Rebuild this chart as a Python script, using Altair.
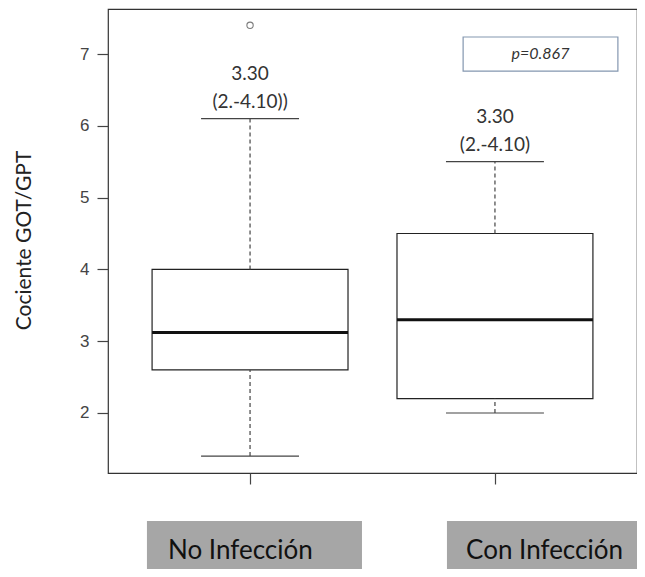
import altair as alt
import pandas as pd

# ---------------- data ----------------
categories = ["No Infección", "Con Infección"]
x_pos = [1, 2]
q1 = [2.60, 2.20]
median = [3.12, 3.30]
q3 = [4.00, 4.50]
whisker_low = [1.40, 2.00]
whisker_high = [6.10, 5.50]
outlier_x = [1]
outlier_val = [7.40]
ann_line1 = ["3.30", "3.30"]
ann_line2 = ["(2.-4.10))", "(2.-4.10)"]
p_label = "p=0.867"

# ---------------- style / layout ----------------
BOX_HALF = 0.4
CAP_HALF = 0.2
X_DOMAIN = [0.42, 2.58]
Y_DOMAIN = [1.164, 7.627]
W, H = 529, 464
# decoration positions (data units)
P_BOX = dict(x0=1.870, x1=2.502, y0=6.763, y1=7.237, tx=2.186, ty=7.0)
LBL_X0 = [0.579, 1.804]
LBL_X1 = [1.457, 2.70]
LBL_TX = [0.665, 1.882]
LBL_Y0, LBL_Y1, LBL_TY = 0.496, -0.40, -0.033

df = pd.DataFrame({
    "cat": categories, "x": x_pos, "q1": q1, "median": median, "q3": q3,
    "wlo": whisker_low, "whi": whisker_high, "a1": ann_line1, "a2": ann_line2,
})
df["xl"] = df["x"] - BOX_HALF
df["xr"] = df["x"] + BOX_HALF
df["cl"] = df["x"] - CAP_HALF
df["cr"] = df["x"] + CAP_HALF

out_df = pd.DataFrame({"x": outlier_x, "v": outlier_val})
p_df = pd.DataFrame([{**P_BOX, "t": p_label}])
lbl_df = pd.DataFrame({"cat": categories, "x0": LBL_X0, "x1": LBL_X1, "tx": LBL_TX,
                       "y0": [LBL_Y0] * 2, "y1": [LBL_Y1] * 2, "ty": [LBL_TY] * 2})

xs = alt.Scale(domain=X_DOMAIN, nice=False, zero=False)
ys = alt.Scale(domain=Y_DOMAIN, nice=False, zero=False)

X_AXIS = alt.Axis(values=[1, 2], labels=False, domain=False, ticks=True, tickSize=11,
                  tickColor="#444", tickWidth=1.2, grid=False, title="")
Y_AXIS = alt.Axis(values=[2, 3, 4, 5, 6, 7], tickSize=11, tickColor="#444", tickWidth=1.2,
                  labelFont="Liberation Sans", labelFontSize=17, labelColor="#444",
                  labelPadding=8, domain=False, grid=False,
                  title="Cociente GOT/GPT", titleFont="Lato", titleFontSize=21,
                  titleFontWeight="normal", titleColor="#222", titleAngle=270,
                  titleX=-84, titleY=231, titleAlign="center", titleBaseline="middle")


def X(f):
    return alt.X(f, scale=xs, axis=X_AXIS)


def Y(f):
    return alt.Y(f, scale=ys, axis=Y_AXIS)


base = alt.Chart(df)

box = base.mark_rect(fill="white", stroke="#222", strokeWidth=1.2).encode(
    x=X("xl:Q"), x2="xr:Q", y=Y("q1:Q"), y2="q3:Q")
med = base.mark_rule(strokeWidth=3, color="#111").encode(
    x=X("xl:Q"), x2="xr:Q", y=Y("median:Q"))
wh_hi = base.mark_rule(strokeDash=[4, 3], color="#444", strokeWidth=1.2).encode(
    x=X("x:Q"), y=Y("q3:Q"), y2="whi:Q")
wh_lo = base.mark_rule(strokeDash=[4, 3], color="#444", strokeWidth=1.2).encode(
    x=X("x:Q"), y=Y("wlo:Q"), y2="q1:Q")
cap_hi = base.mark_rule(color="#444", strokeWidth=1.2).encode(
    x=X("cl:Q"), x2="cr:Q", y=Y("whi:Q"))
cap_lo = base.mark_rule(color="#444", strokeWidth=1.2).encode(
    x=X("cl:Q"), x2="cr:Q", y=Y("wlo:Q"))
outl = alt.Chart(out_df).mark_point(shape="circle", filled=False, size=40,
                                     color="#444", strokeWidth=1.1).encode(
    x=X("x:Q"), y=Y("v:Q"))
ann1 = base.mark_text(font="Lato", fontSize=19, color="#333", dy=-45,
                      baseline="middle").encode(x=X("x:Q"), y=Y("whi:Q"), text="a1:N")
ann2 = base.mark_text(font="Lato", fontSize=19, color="#333", dy=-17,
                      baseline="middle").encode(x=X("x:Q"), y=Y("whi:Q"), text="a2:N")

pbox = alt.Chart(p_df).mark_rect(fill="white", stroke="#8497b0", strokeWidth=1.2).encode(
    x=X("x0:Q"), x2="x1:Q", y=Y("y0:Q"), y2="y1:Q")
ptext = alt.Chart(p_df).mark_text(font="Lato", fontStyle="italic", fontSize=16,
                                   color="#333", baseline="middle").encode(
    x=X("tx:Q"), y=Y("ty:Q"), text="t:N")

lbl_rect = alt.Chart(lbl_df).mark_rect(fill="#a6a6a6").encode(
    x=X("x0:Q"), x2="x1:Q", y=Y("y0:Q"), y2="y1:Q")
lbl_text = alt.Chart(lbl_df).mark_text(font="Lato", fontSize=26, color="#111",
                                        align="left", baseline="alphabetic").encode(
    x=X("tx:Q"), y=Y("ty:Q"), text="cat:N")

chart = alt.layer(box, wh_hi, wh_lo, cap_hi, cap_lo, med, outl, ann1, ann2,
                  pbox, ptext, lbl_rect, lbl_text).properties(
    width=W, height=H,
    autosize=alt.AutoSizeParams(type="none"),
    padding={"left": 100, "top": 1, "right": 0, "bottom": 96},
    background="white",
).configure_view(stroke="#333", strokeWidth=1.2)

chart.save("out.html", embed_options={"renderer": "svg", "actions": False})
